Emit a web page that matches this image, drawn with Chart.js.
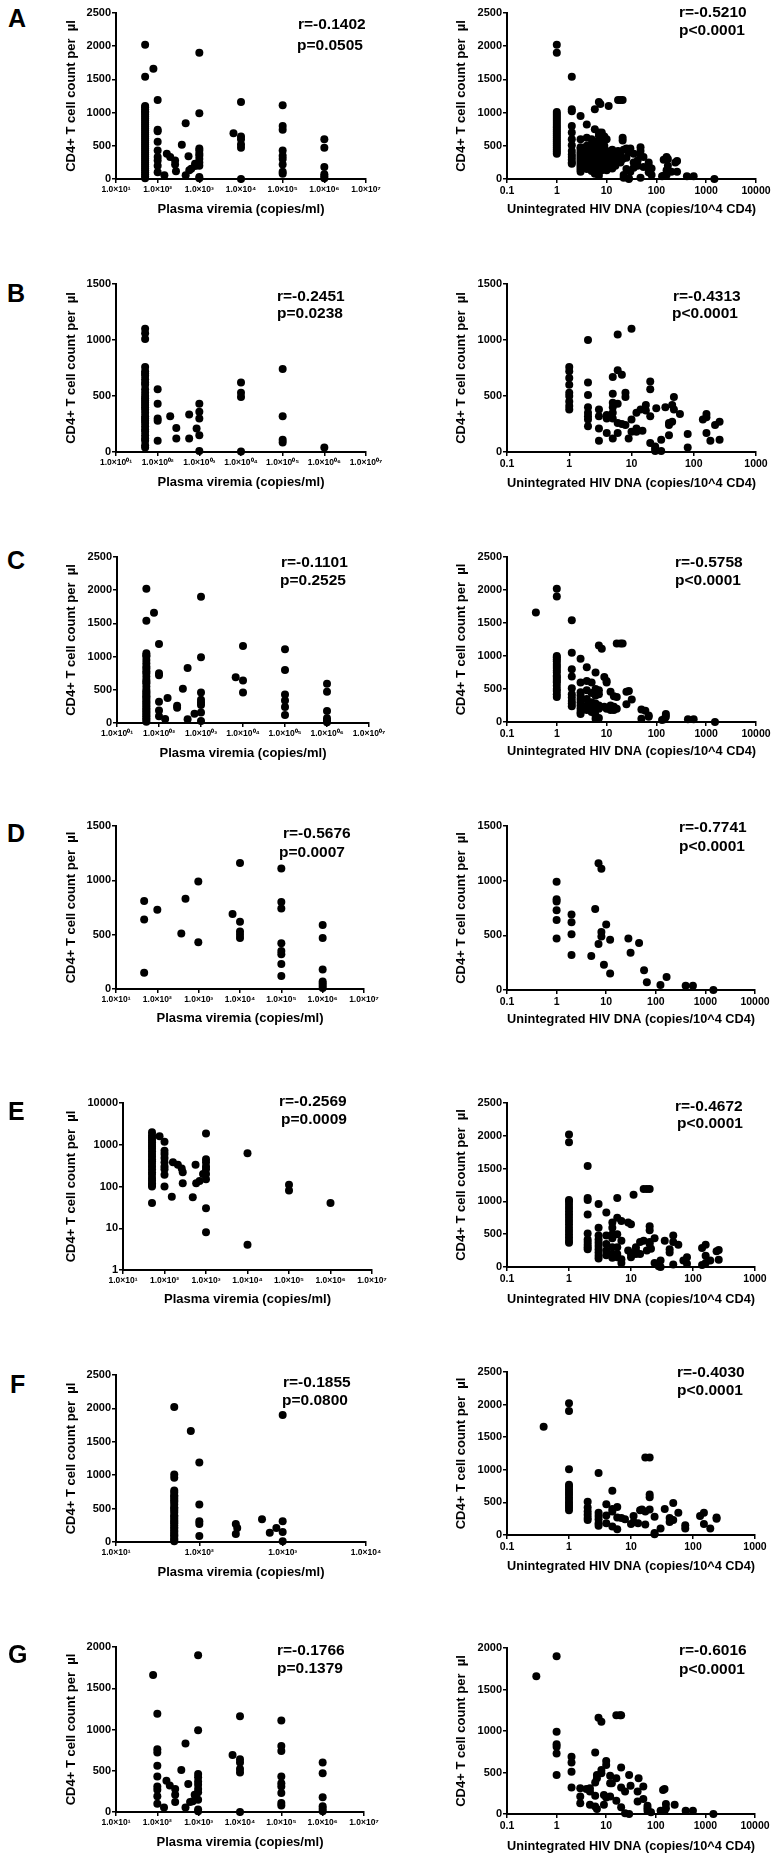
<!DOCTYPE html>
<html>
<head>
<meta charset="utf-8">
<script src="https://cdn.jsdelivr.net/npm/chart.js@4.4.1/dist/chart.umd.min.js"></script>
<style>
body { margin: 0; background: #fff; }
#fig { position: relative; width: 778px; height: 1859px; overflow: hidden; font-family: "Liberation Sans", Arial, sans-serif; }
#fig canvas { position: absolute; }
.lbl { position: absolute; font-weight: bold; line-height: 1; white-space: nowrap; color: #000; }
</style>
</head>
<body>
<div id="fig"></div>
<script>
// axis texts
var plasmaTitle = 'Plasma viremia (copies/ml)';
var dnaTitle = 'Unintegrated HIV DNA (copies/10^4 CD4)';
var cd4Title = 'CD4+ T cell count per  µl';

var plasmaTicks = ['1.0×10¹', '1.0×10²', '1.0×10³', '1.0×10⁴', '1.0×10⁵', '1.0×10⁶', '1.0×10⁷'];
var plasmaTicks0 = ['1.0×10⁰¹', '1.0×10⁰²', '1.0×10⁰³', '1.0×10⁰⁴', '1.0×10⁰⁵', '1.0×10⁰⁶', '1.0×10⁰⁷'];
var plasmaTicksF = ['1.0×10¹', '1.0×10²', '1.0×10³', '1.0×10⁴'];
var dnaTicks4 = ['0.1', '1', '10', '100', '1000', '10000'];
var dnaTicks3 = ['0.1', '1', '10', '100', '1000'];
var cd4LogTicks = ['1', '10', '100', '1000', '10000'];

// data: [x, [y values at that x]]
var aPlasma = [
  [50, [2020, 1540, 1100, 1080, 1050, 1020, 1000, 970, 940, 910, 880, 850, 820, 790, 760, 730, 700, 670, 640, 610, 580, 550, 520, 490, 460, 430, 400, 370, 340, 310, 280, 250, 220, 190, 160, 130, 100, 70, 40, 10]],
  [79, [1660]],
  [100, [1190, 740, 720, 560, 430, 330, 280, 200, 100]],
  [145, [55]], [166, [380]], [200, [330]], [262, [280, 220]], [275, [115]],
  [380, [517]], [470, [838, 55]], [550, [341]], [575, [130]], [640, [155]], [790, [196, 230]],
  [1000, [1900, 990, 460, 430, 380, 350, 300, 250, 200, 30, 10]],
  [6600, [690]],
  [10000, [1160, 640, 600, 520, 470, 0]],
  [100000, [1110, 800, 740, 430, 350, 300, 220, 110, 80]],
  [1000000, [600, 470, 180, 70, 40, 10]]
];
var aDna = [
  [1, [2020, 1900, 1010, 980, 950, 920, 890, 860, 830, 800, 770, 740, 710, 680, 650, 620, 590, 560, 530, 500, 470, 440, 410, 380]],
  [2, [1540, 1050, 1020, 800, 700, 600, 510, 420, 370, 330, 290, 250, 230]],
  [3, [950, 600, 480, 450, 410, 380, 350, 320, 290, 260, 230, 200, 170, 140, 110]],
  [4, [820, 620, 500, 440, 380, 320, 270, 220, 180, 150]],
  [5, [600, 520, 470, 400, 330, 280, 230, 170, 120]],
  [5.8, [1050, 750, 560, 500, 430, 350, 300, 250, 200, 140, 80]],
  [7, [1160, 700, 650, 450, 380, 310, 260, 210, 160, 100, 50]],
  [7.5, [1130, 620, 540, 400, 280, 180]],
  [8, [700, 620, 460, 360, 240, 130]],
  [9, [640, 500, 300, 220, 150]],
  [10, [600, 420, 260, 200, 130]],
  [11, [1100, 350, 280, 180]],
  [13, [440, 400, 300, 230, 160]],
  [15, [380, 250, 200]],
  [17, [1190, 420, 330]], [19, [1190, 380, 250]], [21, [1190, 620, 580, 300]],
  [22, [60, 20, 440]], [25, [460, 320, 150]], [28, [0, 10, 400]], [30, [460, 110]],
  [35, [380, 250, 170]], [42, [280, 200]], [48, [480, 420, 350, 20]], [55, [330, 180]],
  [70, [250, 200, 160, 100]], [80, [160, 60]],
  [130, [40]], [140, [290, 50]], [160, [330, 130, 60]], [170, [300, 200]], [200, [110]],
  [240, [250]], [260, [270, 110]], [410, [40]], [560, [40]], [1460, [0]]
];
var bPlasma = [
  [50, [1100, 1060, 1010, 760, 720, 700, 680, 650, 620, 600, 560, 530, 500, 480, 460, 440, 420, 400, 380, 350, 320, 300, 280, 260, 230, 200, 180, 150, 120, 100, 60, 40]],
  [100, [560, 430, 300, 280, 100]],
  [200, [320]], [280, [215, 120]], [570, [335, 120]], [860, [210]],
  [1000, [430, 360, 300, 150, 10]],
  [10000, [620, 530, 490, 5]],
  [100000, [740, 320, 110, 85]],
  [1000000, [40]]
];
var bDna = [
  [1, [760, 720, 660, 600, 530, 500, 450, 410, 380]],
  [2, [1000, 620, 510, 400, 350, 320, 290, 230]],
  [3, [380, 320, 210, 100]], [4, [330, 300, 170]],
  [5, [670, 520, 440, 400, 350, 300, 120]],
  [6, [1050, 730, 430, 260, 170]], [7, [690, 250]], [8, [530, 490, 240]], [9, [120]],
  [10, [1100, 290, 180]], [12, [350, 210, 180]], [14, [380]], [15, [190]], [17, [420, 370]],
  [20, [630, 560, 320, 80]], [24, [50, 30, 10]], [25, [390]], [30, [110, 10]], [35, [400]],
  [40, [260, 240, 150]], [45, [420, 270]], [48, [490, 380]], [60, [340]], [80, [160, 40]],
  [140, [290]], [160, [310, 340, 170]], [185, [100]], [220, [240]], [260, [270, 110]]
];
var cPlasma = [
  [50, [2020, 1540, 1050, 1020, 1000, 950, 900, 850, 820, 780, 750, 700, 650, 620, 600, 550, 500, 470, 450, 420, 400, 380, 350, 320, 300, 270, 250, 220, 200, 170, 150, 120, 100, 70, 50, 20]],
  [76, [1660]],
  [100, [1190, 750, 720, 320, 190, 100]],
  [140, [60]], [160, [375]], [270, [260, 230]], [370, [515]], [480, [830, 55]], [700, [140]],
  [1000, [1900, 990, 460, 350, 310, 270, 160, 30]],
  [6700, [690]],
  [10000, [1160, 640, 460]],
  [100000, [1110, 800, 430, 340, 240, 120]],
  [1000000, [590, 470, 180, 70, 40, 10]]
];
var cDna = [
  [0.38, [1660]],
  [1, [2020, 1900, 1000, 980, 950, 920, 880, 850, 820, 780, 750, 700, 680, 650, 620, 600, 550, 500, 470, 420, 380]],
  [2, [1540, 1050, 800, 690, 510, 420, 370, 320, 280, 240]],
  [3, [960, 600, 450, 400, 350, 300, 250, 200, 150, 120]],
  [4, [830, 620, 480, 350, 250, 180]],
  [5, [600, 440, 300, 200, 150]],
  [6, [750, 500, 470, 400, 280, 180, 100, 50]],
  [7, [1160, 480, 420, 250, 200, 60]], [8, [1110]], [9, [680, 230]], [10, [620, 600, 200]],
  [12, [460, 250, 180]], [14, [390, 230, 180]], [16, [1190, 380, 200]], [19, [1190]], [21, [1190]],
  [25, [460, 270]], [28, [470]], [32, [340]], [50, [190, 50]], [60, [170]], [70, [100, 80]],
  [130, [30]], [145, [50, 40]], [155, [80, 120]], [430, [40]], [560, [40]], [1500, [0]]
];
var dPlasma = [
  [48, [810, 640, 150]], [100, [730]], [380, [510]], [480, [830]], [980, [990, 430]],
  [6600, [690]],
  [10000, [1160, 620, 530, 500, 470]],
  [100000, [1110, 800, 740, 420, 350, 320, 230, 120]],
  [1000000, [590, 470, 180, 70, 50, 30, 10]]
];
var dDna = [
  [1, [990, 830, 810, 730, 640, 470]], [2, [690, 620, 510, 320]], [5, [310]], [6, [740]],
  [7, [1160, 420]], [8, [1110, 530, 490]], [9, [230]], [10, [600]], [12, [460, 150]],
  [28, [470]], [31, [340]], [46, [430]], [58, [180]], [66, [70]], [124, [45]], [165, [120]],
  [400, [40]], [560, [40]], [1450, [0]]
];
var ePlasma = [
  [50, [2000, 1700, 1500, 1300, 1150, 1000, 900, 800, 700, 600, 520, 450, 400, 350, 300, 260, 220, 190, 160, 140, 120, 110, 100, 40]],
  [76, [1600]],
  [100, [1180, 720, 600, 480, 380, 300, 260, 190, 100]],
  [150, [57]], [160, [380]], [210, [330]], [260, [270]], [275, [220, 120]], [480, [55]],
  [560, [330]], [580, [120]], [700, [135]], [850, [200]],
  [1000, [1850, 450, 380, 300, 260, 200, 150, 30, 8]],
  [10000, [630, 4]],
  [100000, [110, 80]],
  [1000000, [40]]
];
var eDna = [
  [1, [2020, 1900, 1020, 1000, 950, 900, 850, 800, 750, 700, 650, 600, 550, 500, 450, 400, 370]],
  [2, [1540, 1050, 1020, 800, 510, 420, 380, 340, 300, 270]],
  [3, [960, 600, 480, 420, 370, 320, 270, 220, 170, 130]],
  [4, [830, 480, 350, 250, 180]],
  [5, [680, 600, 500, 440, 300, 200, 140]],
  [6, [1050, 750, 500, 300, 200, 150]],
  [7, [700, 400, 120, 60]], [9, [680, 250]], [10, [650, 200, 150]], [11, [1100]],
  [12, [300, 250, 200]], [14, [380, 200]], [16, [1190, 400]], [18, [1190, 250]],
  [20, [1190, 620, 560, 380, 350]], [21, [280]], [24, [440, 60]], [28, [30, 10]], [30, [0, 100]],
  [35, [400]], [42, [270, 220]], [48, [480, 380, 40]], [58, [340]], [70, [100]], [80, [150, 50]],
  [140, [290, 30]], [160, [340, 170, 60]], [190, [100]], [240, [240]], [260, [260, 110]]
];
var fPlasma = [
  [50, [2020, 1010, 960, 770, 740, 700, 680, 650, 620, 600, 560, 520, 500, 470, 440, 400, 380, 350, 320, 300, 280, 250, 220, 200, 170, 150, 120, 100, 80, 50, 30, 10]],
  [79, [1660]],
  [100, [1190, 560, 310, 270, 90]],
  [274, [270, 120]], [285, [210]], [565, [340]], [700, [140]], [840, [210]],
  [1000, [1900, 310, 150, 10]]
];
var fDna = [
  [0.39, [1660]],
  [1, [2020, 1900, 1010, 770, 740, 700, 660, 620, 580, 540, 500, 460, 420, 380]],
  [2, [510, 420, 360, 310, 260, 230]],
  [3, [950, 340, 290, 240, 180, 140]],
  [4, [470, 300, 180]], [5, [680, 400, 360, 130]], [6, [430, 270, 90]], [7, [260]], [8, [240]],
  [10, [170]], [11, [290, 200]], [13, [180]], [14, [380]], [15, [390]], [17, [1190, 360, 160]],
  [20, [1190, 620, 580, 390]], [24, [280, 30, 10]], [30, [100]], [35, [400]], [42, [200, 260]],
  [48, [490, 230]], [58, [340]], [75, [100, 150]], [130, [290]], [150, [340, 170]], [190, [100]],
  [240, [250, 270]]
];
var gPlasma = [
  [79, [1660]],
  [100, [1190, 760, 720, 560, 430, 310, 270, 190, 100]],
  [145, [55]], [166, [380]], [200, [320]], [270, [280, 210, 120]], [380, [510]], [480, [830, 55]],
  [560, [340]], [620, [120]], [720, [130]], [800, [210]],
  [970, [1900, 990, 460, 420, 370, 330, 280, 240, 150, 30, 10]],
  [6600, [690]],
  [10000, [1160, 640, 600, 520, 480, 0]],
  [100000, [1110, 800, 740, 430, 350, 310, 230, 110, 80]],
  [1000000, [600, 470, 180, 70, 40, 10]]
];
var gDna = [
  [0.39, [1660]],
  [1, [1900, 990, 840, 810, 730, 470]], [2, [690, 620, 510, 320]], [3, [310, 210, 130]], [4, [300]],
  [4.7, [310, 270, 110]], [6, [740, 380, 220, 90]], [6.5, [430, 470, 60]], [7, [1160]],
  [8, [1110, 530, 490]], [9, [230, 110]], [10, [640, 590, 200]], [12, [460, 370, 210]], [13, [370]],
  [16, [1190, 430, 160]], [19, [1190]], [20, [1190, 560, 320, 80]], [24, [270, 10]], [29, [470, 0]],
  [31, [340]], [43, [270, 150]], [45, [430]], [56, [330, 180]], [68, [100, 70, 40]], [80, [20]],
  [125, [40]], [140, [290]], [150, [300, 40]], [160, [120, 70]], [240, [110]], [400, [40]],
  [560, [40]], [1450, [0]]
];

Chart.defaults.font.family = '"Liberation Sans", Arial, sans-serif';
Chart.defaults.color = '#000';

var fig = document.getElementById('fig');

function pts(groups) {
  var out = [];
  groups.forEach(function (g) {
    g[1].forEach(function (y) { out.push({x: g[0], y: y}); });
  });
  return out;
}

function decades(min, max) {
  var d = [];
  for (var k = Math.round(Math.log10(min)); k <= Math.round(Math.log10(max)); k++) d.push(Math.pow(10, k));
  return d;
}

function label(txt, x, base, size) {
  var d = document.createElement('div');
  d.className = 'lbl';
  d.textContent = txt;
  d.style.left = x + 'px';
  d.style.top = (base - 0.8465 * size) + 'px';
  d.style.fontSize = size + 'px';
  fig.appendChild(d);
}

var grid = {display: true, drawOnChartArea: false, drawTicks: true, tickLength: 4, color: '#000', lineWidth: 1.5};
var border = {display: true, color: '#000', width: 2};

function panel(p) {
  var left = Math.round(p.yTitleX - 7.8), top = Math.round(p.area[2]) - 10;
  var width = Math.round(p.area[1]) + 22 - left;
  var height = Math.round(p.xTitleY + 7.8) - top;
  var yW = Math.round(p.area[0]) - left;
  var xH = height - (Math.round(p.area[3]) - top);

  var cv = document.createElement('canvas');
  cv.width = width; cv.height = height;
  cv.style.left = left + 'px'; cv.style.top = top + 'px';
  fig.appendChild(cv);

  var xVals = decades(p.xMin, p.xMax);
  var yAxis;
  if (p.yLog) {
    var yVals = decades(1, 10000);
    yAxis = {type: 'logarithmic', min: 1, max: 10000,
      afterBuildTicks: function (s) { s.ticks = yVals.map(function (v) { return {value: v}; }); },
      ticks: {callback: function (v, i) { return cd4LogTicks[i]; }}};
  } else {
    yAxis = {type: 'linear', min: 0, max: p.yMax,
      ticks: {stepSize: 500, callback: function (v) { return String(v); }}};
  }
  yAxis.afterFit = function (s) { s.width = yW; };
  yAxis.ticks.padding = 1;
  yAxis.ticks.color = '#000';
  yAxis.ticks.font = {size: 11, weight: 'bold'};
  yAxis.grid = grid;
  yAxis.border = border;
  yAxis.title = {display: true, text: cd4Title, color: '#000', font: {size: 13, weight: 'bold'}, padding: 0};

  new Chart(cv, {
    type: 'scatter',
    data: {datasets: [{data: pts(p.data), pointRadius: 4, pointHoverRadius: 4,
      backgroundColor: '#000', borderColor: '#000', borderWidth: 0, clip: false}]},
    options: {
      responsive: false, animation: false, events: [],
      layout: {padding: {top: 10, right: 22, left: 0, bottom: 0}},
      plugins: {legend: {display: false}, tooltip: {enabled: false}},
      scales: {
        x: {type: 'logarithmic', min: p.xMin, max: p.xMax,
          afterBuildTicks: function (s) { s.ticks = xVals.map(function (v) { return {value: v}; }); },
          afterFit: function (s) { s.height = xH; },
          ticks: {autoSkip: false, maxRotation: 0, padding: 2, color: '#000',
            font: {size: p.xTickSize, weight: 'bold'},
            callback: function (v, i) { return p.xLabels[i]; }},
          grid: grid, border: border,
          title: {display: true, text: p.xTitle, color: '#000', font: {size: 13, weight: 'bold'}, padding: 0}},
        y: yAxis
      }
    }
  });

  label(p.stats[0], p.r[0], p.r[1], 15.5);
  label(p.stats[1], p.p[0], p.p[1], 15.5);
  if (p.letter) label(p.letter[0], p.letter[1], p.letter[2], 25);
}

var L = {xMin: 10, xMax: 10000000, xTitle: plasmaTitle, xLabels: plasmaTicks, xTickSize: 8.5, yTitleX: 72};
var R = {xMin: 0.1, xMax: 10000, xTitle: dnaTitle, xLabels: dnaTicks4, xTickSize: 10.5, yTitleX: 462};

var panels = [
  Object.assign({}, L, {data: aPlasma, yMax: 2500, area: [116, 366, 13, 179], xTitleY: 209,
    stats: ['r=-0.1402', 'p=0.0505'], r: [298, 29], p: [297, 50], letter: ['A', 8, 27]}),
  Object.assign({}, R, {data: aDna, yMax: 2500, area: [507, 756, 13, 179], xTitleY: 209,
    stats: ['r=-0.5210', 'p<0.0001'], r: [679, 17.5], p: [679, 35.5]}),
  Object.assign({}, L, {data: bPlasma, yMax: 1500, xLabels: plasmaTicks0, area: [116, 366, 284, 452], xTitleY: 482,
    stats: ['r=-0.2451', 'p=0.0238'], r: [277, 301], p: [277, 318.3], letter: ['B', 7, 301.7]}),
  Object.assign({}, R, {data: bDna, yMax: 1500, xMax: 1000, xLabels: dnaTicks3, area: [507, 756, 284, 452], xTitleY: 483,
    stats: ['r=-0.4313', 'p<0.0001'], r: [673, 300.7], p: [672, 318.3]}),
  Object.assign({}, L, {data: cPlasma, yMax: 2500, xLabels: plasmaTicks0, area: [117, 369, 557, 723], xTitleY: 753,
    stats: ['r=-0.1101', 'p=0.2525'], r: [281, 566.7], p: [280, 585], letter: ['C', 7, 569.3]}),
  Object.assign({}, R, {data: cDna, yMax: 2500, area: [507, 756, 557, 722], xTitleY: 751,
    stats: ['r=-0.5758', 'p<0.0001'], r: [675, 566.7], p: [675, 585]}),
  Object.assign({}, L, {data: dPlasma, yMax: 1500, area: [116, 364, 826, 989], xTitleY: 1018,
    stats: ['r=-0.5676', 'p=0.0007'], r: [283, 838.3], p: [279, 856.7], letter: ['D', 7, 841.7]}),
  Object.assign({}, R, {data: dDna, yMax: 1500, area: [507, 755, 826, 990], xTitleY: 1019,
    stats: ['r=-0.7741', 'p<0.0001'], r: [679, 831.7], p: [679, 850.7]}),
  Object.assign({}, L, {data: ePlasma, yLog: true, area: [123, 372, 1103, 1270], xTitleY: 1299,
    stats: ['r=-0.2569', 'p=0.0009'], r: [279, 1105.7], p: [281, 1124], letter: ['E', 8, 1120]}),
  Object.assign({}, R, {data: eDna, yMax: 2500, xMax: 1000, xLabels: dnaTicks3, area: [507, 755, 1103, 1267], xTitleY: 1299,
    stats: ['r=-0.4672', 'p<0.0001'], r: [675, 1110.7], p: [677, 1128.3]}),
  Object.assign({}, L, {data: fPlasma, yMax: 2500, xMax: 10000, xLabels: plasmaTicksF, area: [116, 366, 1375, 1542], xTitleY: 1572,
    stats: ['r=-0.1855', 'p=0.0800'], r: [283, 1386.7], p: [282, 1405], letter: ['F', 10, 1393]}),
  Object.assign({}, R, {data: fDna, yMax: 2500, xMax: 1000, xLabels: dnaTicks3, area: [507, 755, 1372, 1535], xTitleY: 1566,
    stats: ['r=-0.4030', 'p<0.0001'], r: [677, 1376.7], p: [677, 1395]}),
  Object.assign({}, L, {data: gPlasma, yMax: 2000, area: [116, 364, 1647, 1812], xTitleY: 1842,
    stats: ['r=-0.1766', 'p=0.1379'], r: [277, 1655], p: [277, 1673.3], letter: ['G', 8, 1663.3]}),
  Object.assign({}, R, {data: gDna, yMax: 2000, area: [507, 755, 1648, 1814], xTitleY: 1846,
    stats: ['r=-0.6016', 'p<0.0001'], r: [679, 1655], p: [679, 1674]})
];

panels.forEach(panel);
</script>
</body>
</html>
